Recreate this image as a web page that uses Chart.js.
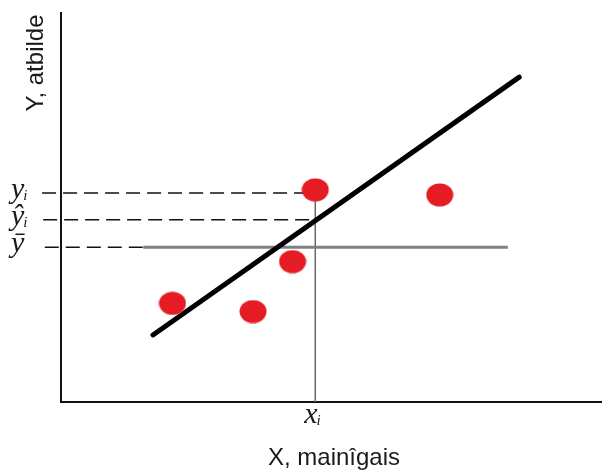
<!DOCTYPE html>
<html>
<head>
<meta charset="utf-8">
<script src="https://cdn.jsdelivr.net/npm/chart.js@4"></script>
<style>
  body { margin: 0; background: #fff; }
  #wrap { width: 603px; height: 470px; }
</style>
</head>
<body>
<div id="wrap"><canvas id="chart" width="603" height="470"></canvas></div>
<script>
// observations
const pointX = [2.06, 3.55, 4.28, 4.7, 7.0];
const pointY = [2.53, 2.32, 3.6, 5.44, 5.31];

// fitted line ends
const fitX = [1.7, 8.47];
const fitY = [1.72, 8.33];

// mean of y
const meanX = [1.52, 8.26];
const meanY = 3.97;

// chosen observation x_i and its levels
const xi = 4.7;
const yiLevel = 5.36;
const yHatLevel = 4.67;

// dashed guides: start and end x for y_i, ŷ_i, ȳ
const guideLevels = [yiLevel, yHatLevel, meanY];
const guideStart = [-0.35, -0.33, -0.3];
const guideEnd = [4.51, 4.7, 1.52];

const xTitle = "X, mainîgais";
const yTitle = "Y, atbilde";

// ellipse marker
const dot = document.createElement("canvas");
dot.width = 28;
dot.height = 24;
const dctx = dot.getContext("2d");
dctx.fillStyle = "#e51c23";
dctx.beginPath();
dctx.ellipse(14, 12, 13.5, 11.5, 0, 0, Math.PI * 2);
dctx.fill();

const pts = (xs, ys) => xs.map((x, i) => ({ x: x, y: ys[i] }));

const datasets = [
  {
    type: "scatter",
    data: pts(pointX, pointY),
    pointStyle: dot,
    pointRadius: 13
  },
  {
    type: "line",
    data: pts(fitX, fitY),
    borderColor: "#000",
    borderWidth: 5,
    borderCapStyle: "round",
    pointRadius: 0
  },
  {
    type: "line",
    data: pts(meanX, [meanY, meanY]),
    borderColor: "#808080",
    borderWidth: 3,
    pointRadius: 0
  },
  {
    type: "line",
    data: pts([xi, xi], [0, yiLevel]),
    borderColor: "#666",
    borderWidth: 1.5,
    pointRadius: 0
  }
];

guideLevels.forEach((lv, i) => {
  datasets.push({
    type: "line",
    data: pts([guideStart[i], guideEnd[i]], [lv, lv]),
    borderColor: "#111",
    borderWidth: 1.5,
    borderDash: [14, 7],
    pointRadius: 0,
    clip: false
  });
});

// axis lines along the chart area
const axisPlugin = {
  id: "axes",
  beforeDatasetsDraw(chart) {
    const { ctx, chartArea: a } = chart;
    ctx.save();
    ctx.strokeStyle = "#111";
    ctx.lineWidth = 2;
    ctx.beginPath();
    ctx.moveTo(a.left, a.top);
    ctx.lineTo(a.left, a.bottom);
    ctx.lineTo(a.right, a.bottom);
    ctx.stroke();
    ctx.restore();
  }
};

// titles and math labels
const labelPlugin = {
  id: "labels",
  afterDraw(chart) {
    const ctx = chart.ctx;
    const sx = chart.scales.x;
    const sy = chart.scales.y;
    ctx.save();
    ctx.fillStyle = "#1a1a1a";

    ctx.font = "24px 'Liberation Sans', Arial, sans-serif";
    ctx.textAlign = "center";
    ctx.textBaseline = "alphabetic";
    ctx.fillText(xTitle, 334, 465);

    ctx.save();
    ctx.translate(43, 63);
    ctx.rotate(-Math.PI / 2);
    ctx.fillText(yTitle, 0, 0);
    ctx.restore();

    ctx.textAlign = "left";
    const big = "italic 30px 'Liberation Serif', 'Times New Roman', serif";
    const small = "italic 15px 'Liberation Serif', 'Times New Roman', serif";
    const sub = (base, subs, x, y) => {
      ctx.font = big;
      ctx.fillText(base, x, y);
      const w = ctx.measureText(base).width;
      if (subs) {
        ctx.font = small;
        ctx.fillText(subs, x + w - 1, y + 2);
      }
    };

    const px = sx.getPixelForValue(xi);
    sub("x", "i", px - 11, 423);

    const names = [["y", "i"], ["ŷ", "i"], ["ȳ", ""]];
    guideLevels.forEach((lv, i) => {
      const py = sy.getPixelForValue(lv);
      sub(names[i][0], names[i][1], 11, py + 5);
    });
    ctx.restore();
  }
};

new Chart(document.getElementById("chart"), {
  data: { datasets: datasets },
  options: {
    responsive: false,
    animation: false,
    layout: { autoPadding: false, padding: { left: 61, top: 12, right: 1, bottom: 68 } },
    plugins: { legend: { display: false }, tooltip: { enabled: false } },
    scales: {
      x: { type: "linear", min: 0, max: 10, display: false },
      y: { type: "linear", min: 0, max: 10, display: false }
    }
  },
  plugins: [axisPlugin, labelPlugin]
});
</script>
</body>
</html>
